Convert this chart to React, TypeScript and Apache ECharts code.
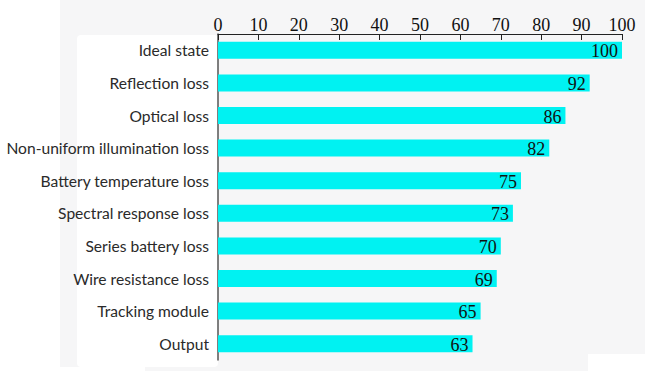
import React, { useEffect, useRef } from "react";
import * as echarts from "echarts";

const categories = [
  "Ideal state",
  "Reflection loss",
  "Optical loss",
  "Non-uniform illumination loss",
  "Battery temperature loss",
  "Spectral response loss",
  "Series battery loss",
  "Wire resistance loss",
  "Tracking module",
  "Output",
];
const values = [100, 92, 86, 82, 75, 73, 70, 69, 65, 63];
const xTicks = { min: 0, max: 100, interval: 10 };

export default function App() {
  const ref = useRef<HTMLDivElement>(null);
  useEffect(() => {
    if (!ref.current) return;
    const chart = echarts.init(ref.current, null, { renderer: "svg" });
    chart.setOption({
      animation: false,
      backgroundColor: "#ffffff",
      graphic: [
        { type: "rect", z: -10, shape: { x: 60, y: 0, width: 585, height: 371 }, style: { fill: "#f6f6f7" }, silent: true },
        { type: "rect", z: -9, shape: { x: 77, y: 35, width: 141, height: 332, r: 4 }, style: { fill: "#ffffff" }, silent: true },
        { type: "rect", z: -9, shape: { x: 60, y: 367, width: 85, height: 4 }, style: { fill: "#ffffff" }, silent: true },
        { type: "rect", z: -9, shape: { x: 588, y: 354, width: 57, height: 17 }, style: { fill: "#ffffff" }, silent: true },
      ],
      grid: { left: 218, right: 23, top: 34, bottom: 11, containLabel: false },
      xAxis: {
        type: "value",
        position: "top",
        min: xTicks.min,
        max: xTicks.max,
        interval: xTicks.interval,
        splitLine: { show: false },
        axisLine: { show: true, lineStyle: { color: "#222", width: 1 } },
        axisTick: { show: true, inside: true, length: 6, lineStyle: { color: "#222" } },
        axisLabel: {
          margin: 0,
          color: "#111",
          fontFamily: "Liberation Serif, serif",
          fontSize: 18,
        },
      },
      yAxis: {
        type: "category",
        data: categories,
        inverse: true,
        axisLine: { show: true, lineStyle: { color: "#555", width: 1.5 } },
        axisTick: { show: true, inside: true, length: 5, alignWithLabel: true, lineStyle: { color: "#333" } },
        axisLabel: {
          margin: 9,
          color: "#2a2a2a",
          fontFamily: "Lato, sans-serif",
          fontSize: 15.6,
        },
      },
      series: [
        {
          type: "bar",
          data: values,
          barWidth: 17,
          itemStyle: { color: "#00f2f2" },
          label: {
            show: true,
            position: "insideRight",
            distance: 4,
            color: "#111",
            fontFamily: "Liberation Serif, serif",
            fontSize: 18,
            offset: [0, 1],
          },
        },
      ],
    });
    return () => chart.dispose();
  }, []);
  return <div ref={ref} style={{ width: 645, height: 371, position: "absolute", left: 0, top: 0 }} />;
}
